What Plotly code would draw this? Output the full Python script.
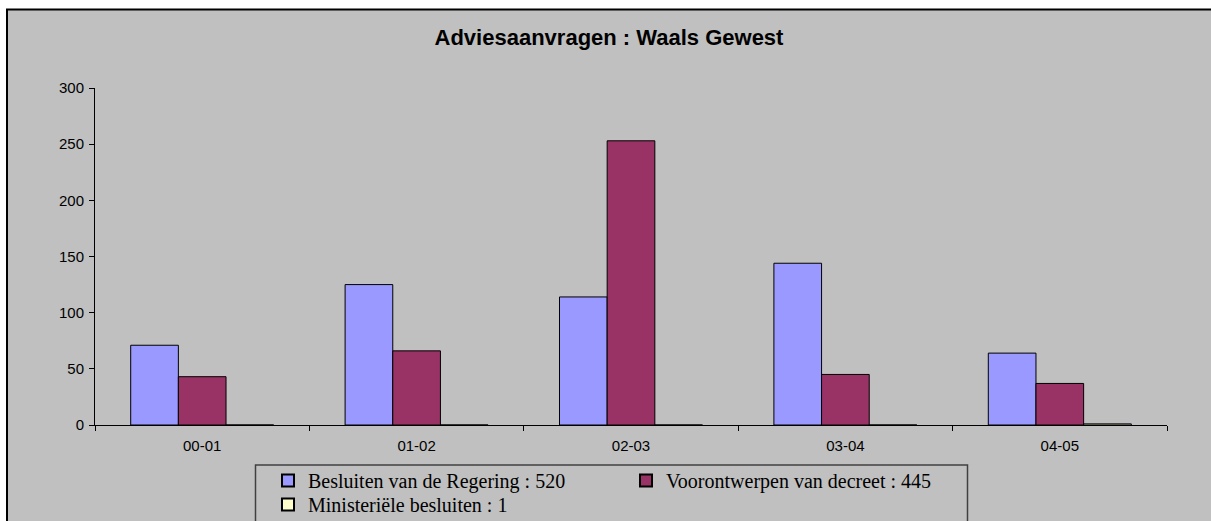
import plotly.graph_objects as go

categories = ["00-01", "01-02", "02-03", "03-04", "04-05"]
besluiten_regering = [71, 125, 114, 144, 64]
voorontwerpen_decreet = [43, 66, 253, 45, 37]
ministeriele_besluiten = [0, 0, 0, 0, 1]
series_names = [
    "Besluiten van de Regering : 520",
    "Voorontwerpen van decreet : 445",
    "Ministeriële besluiten : 1",
]
series_colors = ["#9999FF", "#993366", "#FFFFCC"]
series_legends = ["legend", "legend", "legend2"]
y_ticks = [0, 50, 100, 150, 200, 250, 300]

W, H = 1211, 521
L, R, T, B = 95, 44, 88, 96
PW, PH = W - L - R, H - T - B


def px_x(p):
    return (p - L) / PW


def px_y(p):
    return (H - B - p) / PH


fig = go.Figure()
for name, vals, col, lg in zip(series_names,
                               [besluiten_regering, voorontwerpen_decreet, ministeriele_besluiten],
                               series_colors, series_legends):
    fig.add_trace(go.Bar(
        x=categories, y=vals, name=name, legend=lg,
        marker=dict(color=col, line=dict(color="black", width=1)),
    ))

legend_common = dict(
    orientation="h", xanchor="left", yanchor="top",
    xref="paper", yref="paper",
    entrywidth=313, entrywidthmode="pixels",
    bgcolor="rgba(0,0,0,0)", borderwidth=0,
    font=dict(family="Liberation Serif, Times New Roman", size=20, color="black"),
    tracegroupgap=0, itemsizing="constant",
)

fig.update_layout(
    width=W, height=H,
    margin=dict(l=L, r=R, t=T, b=B, autoexpand=False),
    paper_bgcolor="white",
    plot_bgcolor="#C0C0C0",
    barmode="group", bargap=0.333, bargroupgap=0,
    title=dict(text="<b>Adviesaanvragen : Waals Gewest</b>",
               x=px_x(609), xref="paper", xanchor="center",
               y=1 - 37 / H, yref="container", yanchor="middle",
               font=dict(family="Liberation Sans, Arial", size=22, color="black")),
    font=dict(family="Liberation Sans, Arial", size=15, color="black"),
    showlegend=True,
    legend=dict(x=px_x(268), y=px_y(461), **legend_common),
    legend2=dict(x=px_x(268), y=px_y(485), **legend_common),
    xaxis=dict(
        type="category", tickson="boundaries", ticks="outside", ticklen=5,
        tickcolor="black", showline=True, linecolor="black", linewidth=1,
        showgrid=False, zeroline=False, ticklabelstandoff=7,
        tickfont=dict(size=15),
    ),
    yaxis=dict(
        range=[0, 300], tickvals=y_ticks, ticks="outside", ticklen=5,
        tickcolor="black", showline=True, linecolor="black", linewidth=1,
        showgrid=False, zeroline=False, tickfont=dict(size=15),
        ticklabelstandoff=2,
    ),
    shapes=[
        dict(type="rect", xref="paper", yref="paper", layer="below",
             x0=px_x(7), x1=px_x(1230), y0=px_y(540), y1=px_y(9.5),
             fillcolor="#C0C0C0", line=dict(color="black", width=2)),
        dict(type="rect", xref="paper", yref="paper", layer="below",
             x0=px_x(255.5), x1=px_x(967.5), y0=px_y(540), y1=px_y(465),
             fillcolor="rgba(0,0,0,0)", line=dict(color="#404040", width=1.5)),
    ],
)

fig.write_html("out.html", config={"displayModeBar": False},
               post_script="document.body.style.margin='0px';")
